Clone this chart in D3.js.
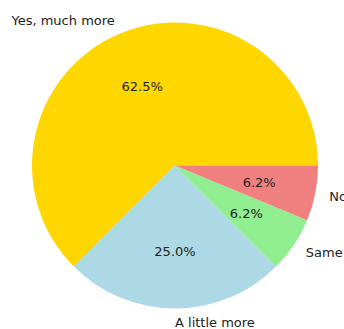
<!DOCTYPE html>
<html>
<head>
<meta charset="utf-8">
<script src="https://cdn.jsdelivr.net/npm/d3@7"></script>
<style>
  body { margin: 0; background: #fff; }
  text { font-family: "DejaVu Sans", sans-serif; font-size: 13px; fill: #222; }
</style>
</head>
<body>
<script>
// answers and their share of responses
var categories = ["Yes, much more", "A little more", "Same", "No"];
var values = [62.5, 25, 6.25, 6.25];
var colors = ["#FFD700", "#ADD8E6", "#90EE90", "#F08080"];

var w = 344, h = 329;
var cx = 175, cy = 165.5, r = 143;

var svg = d3.select("body").append("svg")
  .attr("width", w)
  .attr("height", h);

var g = svg.append("g").attr("transform", "translate(" + cx + "," + cy + ")");

// start at 3 o'clock and go counter-clockwise
var pie = d3.pie().sort(null)
  .startAngle(Math.PI / 2)
  .endAngle(Math.PI / 2 - 2 * Math.PI);

var arcs = pie(values);
var arc = d3.arc().innerRadius(0).outerRadius(r);

g.selectAll("path")
  .data(arcs)
  .enter()
  .append("path")
  .attr("d", arc)
  .attr("fill", function(d, i) { return colors[i]; });

// round half to even like "%1.1f"
function fmt(v) {
  var total = d3.sum(values);
  var p = v / total * 1000;
  var f = Math.floor(p);
  var n = (Math.abs(p - f - 0.5) < 1e-9) ? (f % 2 === 0 ? f : f + 1) : Math.round(p);
  return (n / 10).toFixed(1) + "%";
}

function mid(d) { return (d.startAngle + d.endAngle) / 2; }

g.selectAll("text.pct")
  .data(arcs)
  .enter()
  .append("text")
  .attr("class", "pct")
  .attr("x", function(d) { return 0.6 * r * Math.sin(mid(d)); })
  .attr("y", function(d) { return -0.6 * r * Math.cos(mid(d)); })
  .attr("text-anchor", "middle")
  .attr("dominant-baseline", "central")
  .text(function(d) { return fmt(d.value); });

g.selectAll("text.lbl")
  .data(arcs)
  .enter()
  .append("text")
  .attr("class", "lbl")
  .attr("x", function(d) { return 1.1 * r * Math.sin(mid(d)); })
  .attr("y", function(d) { return -1.1 * r * Math.cos(mid(d)); })
  .attr("text-anchor", function(d) { return Math.sin(mid(d)) > -1e-9 ? "start" : "end"; })
  .attr("dominant-baseline", "central")
  .text(function(d, i) { return categories[i]; });
</script>
</body>
</html>
